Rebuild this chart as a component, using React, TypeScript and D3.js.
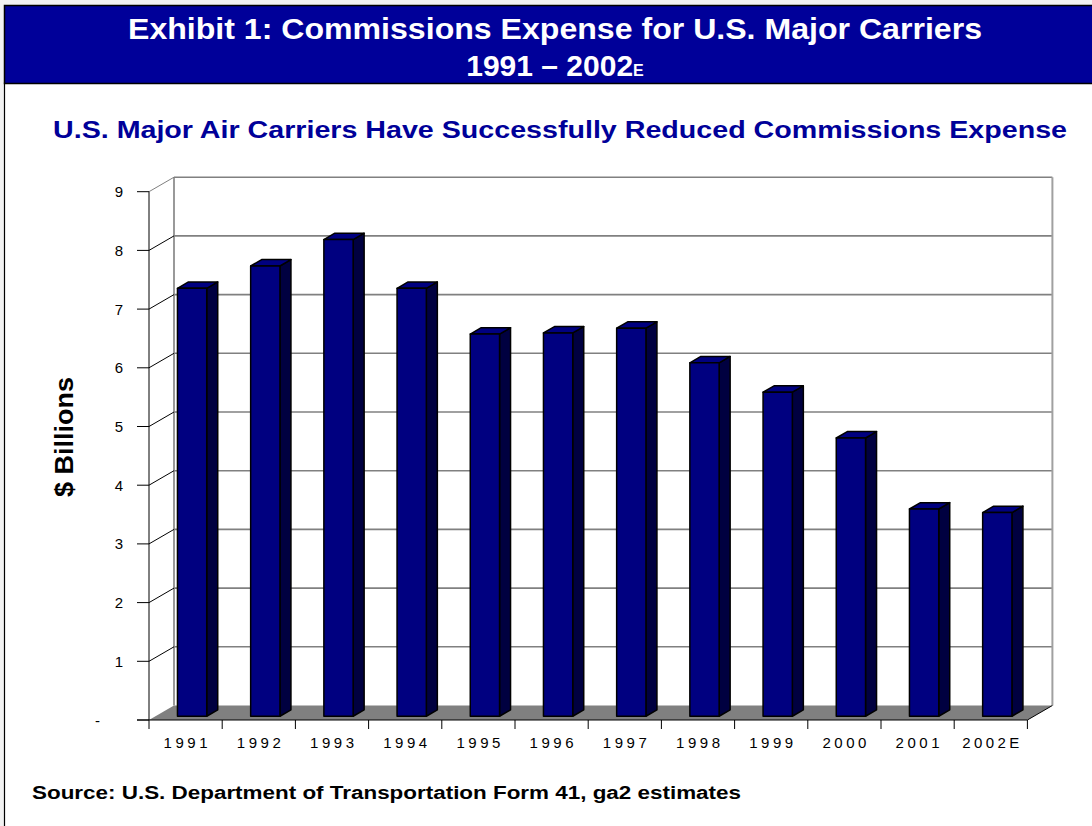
import React from 'react';
import * as d3 from 'd3';

// values in $ billions
const years = ['1991', '1992', '1993', '1994', '1995', '1996', '1997', '1998', '1999', '2000', '2001', '2002E'];
const commissions = [7.29, 7.67, 8.12, 7.29, 6.51, 6.53, 6.61, 6.02, 5.52, 4.74, 3.53, 3.47];
const yTicks = [0, 1, 2, 3, 4, 5, 6, 7, 8, 9];
const yTickLabels = ['-', '1', '2', '3', '4', '5', '6', '7', '8', '9'];

const W = 1092;
const H = 826;
const FONT = '"Liberation Sans", Arial, Helvetica, sans-serif';
const NAVY = '#000099';

// plot frame (front plane) and 3D depth vector
const plot = { left: 149, right: 1027.4, top: 191.7, bottom: 720 };
const depth = { dx: 25, dy: -14.5 };
const barDepth = [0.26, 0.7]; // bar front/back as fraction of depth

const App = () => {
  const x = d3.scaleBand().domain(years).range([plot.left, plot.right]).padding(0);
  const y = d3.scaleLinear().domain([0, 9]).range([plot.bottom, plot.top]);

  const bw = x.bandwidth() * 0.4;
  const f0x = depth.dx * barDepth[0], f0y = depth.dy * barDepth[0];
  const sx = depth.dx * (barDepth[1] - barDepth[0]);
  const sy = depth.dy * (barDepth[1] - barDepth[0]);

  const backLeft = plot.left + depth.dx;
  const backRight = plot.right + depth.dx;
  const floorY = plot.bottom + depth.dy;

  const pts = (arr: number[][]) => arr.map(p => p.join(',')).join(' ');

  return (
    <svg width={W} height={H} style={{ position: 'fixed', left: 0, top: 0, background: '#f2f2f2' }}
      fontFamily={FONT}>
      {/* panel + header */}
      <rect x={4.5} y={83} width={W + 10} height={H} fill="#fff" stroke="#000" strokeWidth={1.2} />
      <rect x={4.5} y={5.5} width={W + 10} height={78} fill={NAVY} stroke="#000" strokeWidth={1.5} />
      <text x={555} y={39} textAnchor="middle" fill="#fff" fontSize={29} fontWeight="bold"
        textLength={854} lengthAdjust="spacingAndGlyphs">
        Exhibit 1:  Commissions Expense for U.S. Major Carriers
      </text>
      <text x={555} y={76} textAnchor="middle" fill="#fff" fontSize={30} fontWeight="bold">
        1991 – 2002<tspan fontSize={16}>E</tspan>
      </text>

      <text x={560} y={138} textAnchor="middle" fill={NAVY} fontSize={23} fontWeight="bold"
        textLength={1014} lengthAdjust="spacingAndGlyphs">
        U.S. Major Air Carriers Have Successfully Reduced Commissions Expense
      </text>

      {/* back wall gridlines */}
      {yTicks.filter(t => t > 0).map(t => (
        <line key={'g' + t} x1={backLeft} x2={backRight} y1={y(t) + depth.dy} y2={y(t) + depth.dy}
          stroke="#808080" strokeWidth={1.6} />
      ))}
      <line x1={backLeft} x2={backLeft} y1={y(9) + depth.dy} y2={floorY} stroke="#808080" strokeWidth={1.6} />
      <line x1={backRight} x2={backRight} y1={y(9) + depth.dy} y2={floorY} stroke="#a0a0a0" strokeWidth={2} />

      {/* side wall diagonals */}
      {yTicks.filter(t => t > 0).map(t => (
        <line key={'d' + t} x1={plot.left} y1={y(t)} x2={backLeft} y2={y(t) + depth.dy}
          stroke={t === 9 ? '#808080' : '#000'} strokeWidth={1} />
      ))}

      {/* floor */}
      <polygon points={pts([[plot.left, plot.bottom], [plot.right, plot.bottom], [backRight, floorY], [backLeft, floorY]])}
        fill="#808080" />
      <line x1={plot.right} y1={plot.bottom} x2={backRight} y2={floorY} stroke="#000" strokeWidth={1} />

      {/* bars */}
      {commissions.map((v, i) => {
        const x0 = (x(years[i]) as number) + x.bandwidth() / 2 - bw / 2 + f0x;
        const x1 = x0 + bw;
        const yt = y(v) + f0y;
        const yb = y(0) + f0y;
        return (
          <g key={years[i]} stroke="#000" strokeWidth={1.5} strokeLinejoin="round">
            <polygon points={pts([[x1, yt], [x1 + sx, yt + sy], [x1 + sx, yb + sy], [x1, yb]])} fill="#000040" />
            <polygon points={pts([[x0, yt], [x0 + sx, yt + sy], [x1 + sx, yt + sy], [x1, yt]])} fill="#000080" />
            <rect x={x0} y={yt} width={bw} height={yb - yt} fill="#000080" />
          </g>
        );
      })}

      {/* axes */}
      <line x1={plot.left} x2={plot.left} y1={plot.top} y2={plot.bottom + 9} stroke="#000" strokeWidth={1} />
      <line x1={137} x2={plot.right} y1={plot.bottom} y2={plot.bottom} stroke="#000" strokeWidth={1} />
      {yTicks.map((t, i) => (
        <g key={'yt' + t}>
          <line x1={137} x2={plot.left} y1={y(t)} y2={y(t)} stroke="#000" strokeWidth={1} />
          <text x={t === 0 ? 100 : 123} y={y(t) + 5.5} textAnchor="end" fontSize={15} fill="#000">
            {yTickLabels[i]}
          </text>
        </g>
      ))}
      {years.map(yr => (
        <line key={'xt' + yr} x1={(x(yr) as number) + x.bandwidth()} x2={(x(yr) as number) + x.bandwidth()}
          y1={plot.bottom} y2={plot.bottom + 9} stroke="#000" strokeWidth={1} />
      ))}
      {years.map(yr => (
        <text key={'xl' + yr} x={(x(yr) as number) + x.bandwidth() / 2} y={748} textAnchor="middle"
          fontSize={15} fill="#000" textLength={yr.length === 4 ? 44 : 57} lengthAdjust="spacing">
          {yr}
        </text>
      ))}

      <text transform="translate(73,437) rotate(-90)" textAnchor="middle" fontSize={25} fontWeight="bold" fill="#000"
        textLength={120} lengthAdjust="spacingAndGlyphs">
        $ Billions
      </text>

      <text x={32} y={799} fontSize={18} fontWeight="bold" fill="#000" textLength={709} lengthAdjust="spacingAndGlyphs">
        Source:  U.S. Department of Transportation Form 41, ga2 estimates
      </text>
    </svg>
  );
};

export default App;
